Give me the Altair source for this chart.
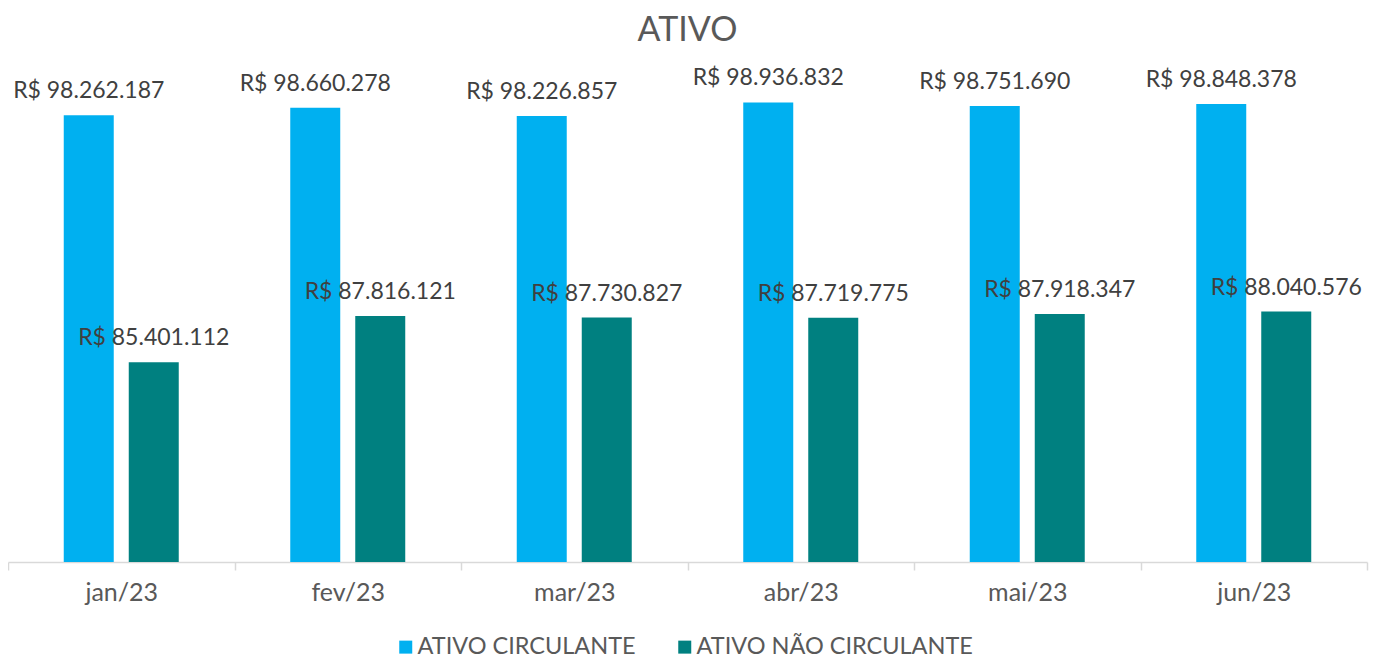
import altair as alt
import pandas as pd

months = ["jan/23", "fev/23", "mar/23", "abr/23", "mai/23", "jun/23"]
series = ["ATIVO CIRCULANTE", "ATIVO NÃO CIRCULANTE"]
circulante = [98262187, 98660278, 98226857, 98936832, 98751690, 98848378]
nao_circulante = [85401112, 87816121, 87730827, 87719775, 87918347, 88040576]
colors = ["#00B0F0", "#008080"]

def fmt(v):
    return "R$ " + f"{v:,}".replace(",", ".")

rows = []
for m, a, b in zip(months, circulante, nao_circulante):
    rows.append({"mes": m, "serie": series[0], "valor": a, "label": fmt(a)})
    rows.append({"mes": m, "serie": series[1], "valor": b, "label": fmt(b)})
df = pd.DataFrame(rows)

FONT = "Lato, Open Sans, sans-serif"

x = alt.X("mes:N", sort=months, title=None,
          scale=alt.Scale(paddingInner=0, paddingOuter=0),
          axis=alt.Axis(labelAngle=0, tickBand="extent", domainColor="#D9D9D9",
                        domainWidth=1.5, tickColor="#D9D9D9", tickWidth=1.5,
                        tickSize=8, labelPadding=10, labelFontSize=25,
                        labelColor="#595959", labelFont=FONT))
xo = alt.XOffset("serie:N", sort=series,
                 scale=alt.Scale(paddingInner=0.2308, paddingOuter=0.8577))
y = alt.Y("valor:Q", scale=alt.Scale(domain=[75000000, 100000000], clamp=True, nice=False, zero=False),
          axis=None)

bars = alt.Chart(df).mark_bar(clip=True).encode(
    x=x, xOffset=xo, y=y,
    color=alt.Color("serie:N", sort=series,
                    scale=alt.Scale(domain=series, range=colors),
                    legend=alt.Legend(title=None, orient="none", direction="horizontal",
                                      legendX=386, legendY=553, symbolType="square",
                                      symbolSize=169, symbolStrokeWidth=0,
                                      labelFontSize=23.5, labelColor="#595959",
                                      labelFont=FONT, columnPadding=37, labelOffset=0,
                                      labelLimit=400)),
)

text = alt.Chart(df).mark_text(baseline="alphabetic", dy=-17, fontSize=23,
                               color="#404040", font=FONT).encode(
    x=x, xOffset=xo, y=y, text="label:N"
)

chart = alt.layer(bars, text).properties(
    width=1359, height=480,
    padding={"left": 0, "top": 74, "right": 9, "bottom": 97},
    autosize=alt.AutoSizeParams(type="none"),
    title=alt.TitleParams("ATIVO", fontSize=34, color="#595959", font=FONT,
                          fontWeight="normal", anchor="middle", offset=19,
                          frame="group"),
).configure_view(stroke=None)

chart.save("out.html", embed_options={"renderer": "svg", "actions": False})
